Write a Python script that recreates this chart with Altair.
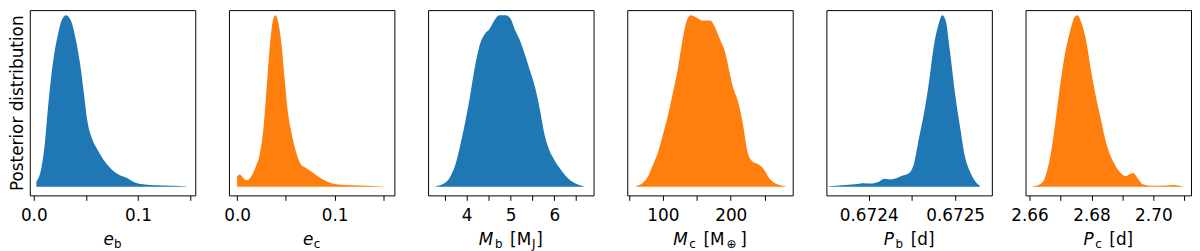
import altair as alt
import pandas as pd

# ---------------- data ----------------
eb_x = [0.0025, 0.0073, 0.0104, 0.0135, 0.0167, 0.0198, 0.023, 0.0262, 0.0309, 0.0356,
        0.0403, 0.0451, 0.0482, 0.0513, 0.056, 0.0608, 0.0671, 0.0734, 0.0813, 0.0891,
        0.0955, 0.1049, 0.1175, 0.1333, 0.1468]
eb_y = [0.03, 0.11, 0.24, 0.45, 0.64, 0.78, 0.88, 0.96, 1.0, 0.97,
        0.86, 0.69, 0.54, 0.39, 0.28, 0.22, 0.157, 0.11, 0.072, 0.053,
        0.03, 0.015, 0.009, 0.006, 0.002]

ec_x = [0.0, 0.0027, 0.0068, 0.0101, 0.0135, 0.0186, 0.023, 0.027, 0.0303, 0.0337,
        0.0371, 0.0394, 0.0421, 0.0455, 0.0489, 0.0522, 0.0556, 0.0606, 0.0657, 0.0707,
        0.0758, 0.0825, 0.0909, 0.101, 0.1178, 0.1347, 0.1536]
ec_y = [0.06, 0.072, 0.049, 0.038, 0.053, 0.11, 0.185, 0.34, 0.58, 0.83,
        0.98, 1.0, 0.96, 0.83, 0.62, 0.43, 0.32, 0.20, 0.128, 0.11,
        0.09, 0.062, 0.034, 0.015, 0.009, 0.006, 0.0]

mb_x = [3.296, 3.48, 3.63, 3.74, 3.85, 3.96, 4.07, 4.18, 4.30, 4.41, 4.52, 4.63, 4.74, 4.89,
        5.0, 5.11, 5.22, 5.33, 5.44, 5.56, 5.67, 5.78, 5.89, 6.0, 6.15, 6.30, 6.44, 6.67]
mb_y = [0.004, 0.019, 0.062, 0.128, 0.24, 0.37, 0.52, 0.69, 0.83, 0.89, 0.92, 0.97, 1.0, 1.0,
        0.98, 0.91, 0.85, 0.77, 0.68, 0.58, 0.45, 0.30, 0.21, 0.157, 0.10, 0.053, 0.025, 0.004]

mc_x = [60.7, 71.2, 78.4, 85.6, 92.8, 100, 107.2, 114.4, 121.6, 128.8, 134.6, 140.9, 148.1,
        157.6, 169.7, 176.9, 184.1, 191.4, 198.6, 203.3, 210.5, 217.7, 224.9, 232.1, 241.8,
        249, 256.2, 265.8, 280.2]
mc_y = [0.004, 0.025, 0.062, 0.128, 0.20, 0.30, 0.41, 0.54, 0.675, 0.85, 0.96, 1.0, 0.99,
        0.97, 0.97, 0.93, 0.86, 0.79, 0.66, 0.58, 0.50, 0.37, 0.20, 0.147, 0.128,
        0.10, 0.053, 0.019, 0.004]

pb_x = [0.672354, 0.672369, 0.672384, 0.672394, 0.672403, 0.672411, 0.672418, 0.672424,
        0.67243, 0.672437, 0.672447, 0.672452, 0.672458, 0.672464, 0.67247, 0.672475,
        0.672481, 0.672485, 0.672489, 0.672494, 0.6725, 0.672506, 0.672511, 0.672517,
        0.672523, 0.672529]
pb_y = [0.004, 0.009, 0.015, 0.021, 0.019, 0.028, 0.047, 0.043, 0.047, 0.062, 0.081, 0.128,
        0.28, 0.43, 0.62, 0.81, 0.95, 1.0, 0.97, 0.79, 0.54, 0.34, 0.185, 0.09, 0.034, 0.004]

pc_x = [2.6611, 2.6634, 2.665, 2.6666, 2.6682, 2.6698, 2.6714, 2.673, 2.6746, 2.6755,
        2.6767, 2.6783, 2.6799, 2.6815, 2.6831, 2.6847, 2.6863, 2.6879, 2.6895, 2.6911,
        2.6922, 2.6935, 2.6948, 2.6965, 2.6997, 2.704, 2.7066, 2.7096]
pc_y = [0.004, 0.015, 0.053, 0.166, 0.355, 0.58, 0.77, 0.90, 0.99, 1.0,
        0.96, 0.85, 0.675, 0.52, 0.39, 0.26, 0.175, 0.119, 0.081, 0.062,
        0.072, 0.081, 0.053, 0.015, 0.006, 0.0075, 0.011, 0.002]

xs = [eb_x, ec_x, mb_x, mc_x, pb_x, pc_x]
ys = [eb_y, ec_y, mb_y, mc_y, pb_y, pc_y]

tick_values = [
    [0.0, 0.05, 0.1, 0.15],
    [0.0, 0.05, 0.1, 0.15],
    [3.5, 4.0, 4.5, 5.0, 5.5, 6.0, 6.5],
    [50, 100, 150, 200, 250],
    [0.67235, 0.6724, 0.67245, 0.6725],
    [2.66, 2.67, 2.68, 2.69, 2.70, 2.71],
]
tick_labels = [
    [(0.0, "0.0"), (0.1, "0.1")],
    [(0.0, "0.0"), (0.1, "0.1")],
    [(4.0, "4"), (5.0, "5"), (6.0, "6")],
    [(100, "100"), (200, "200")],
    [(0.6724, "0.6724"), (0.6725, "0.6725")],
    [(2.66, "2.66"), (2.68, "2.68"), (2.70, "2.70")],
]
x_domains = [
    [-0.0038, 0.155],
    [-0.0084, 0.1613],
    [3.118, 6.896],
    [47.7, 291.2],
    [0.672351, 0.6725425],
    [2.65872, 2.71216],
]
# axis titles: (text, kind, gap before in em)
x_titles = [
    [("e", "it", 0), ("b", "sub", 0.02)],
    [("e", "it", 0), ("c", "sub", 0.02)],
    [("M", "it", 0), ("b", "sub", 0.1), ("[M", "rm", 0.45), ("J", "sub", 0.05), ("]", "rm", 0.05)],
    [("M", "it", 0), ("c", "sub", 0.1), ("[M", "rm", 0.45), ("⊕", "sub", 0.12), ("]", "rm", 0.22)],
    [("P", "it", 0), ("b", "sub", 0.1), ("[d]", "rm", 0.45)],
    [("P", "it", 0), ("c", "sub", 0.1), ("[d]", "rm", 0.45)],
]
y_title = "Posterior distribution"
colors = ["#1f77b4", "#ff7f0e", "#1f77b4", "#ff7f0e", "#1f77b4", "#ff7f0e"]

# ---------------- layout / style ----------------
W, H = 167, 187
FONT = "DejaVu Sans"
FS = 17
SUB = 12
ADV = {"e": 0.615, "b": 0.635, "c": 0.550, "M": 0.863, "P": 0.603, "J": 0.295,
       "[": 0.390, "]": 0.390, "d": 0.635, " ": 0.318, "⊕": 0.838}


def label_expr(pairs, step):
    eps = step * 1e-3
    expr = "''"
    for v, lab in reversed(pairs):
        expr = f"abs(datum.value - {v}) < {eps} ? '{lab}' : " + expr
    return expr


def title_layers(segs):
    total = 0.0
    for txt, kind, gap in segs:
        total += gap * FS
        size = SUB if kind == "sub" else FS
        total += sum(ADV.get(ch, 0.6) for ch in txt) * size
    x = W / 2 - total / 2
    layers = []
    for txt, kind, gap in segs:
        x += gap * FS
        size = SUB if kind == "sub" else FS
        y = H + 53 if kind == "sub" else H + 50
        style = "italic" if kind == "it" else "normal"
        layers.append(
            alt.Chart(alt.Data(values=[{"t": txt}]))
            .mark_text(align="left", baseline="alphabetic", font=FONT, fontSize=size,
                       fontStyle=style, color="black")
            .encode(text="t:N", x=alt.value(x), y=alt.value(y))
        )
        x += sum(ADV.get(ch, 0.6) for ch in txt) * size
    return layers


panels = []
for i in range(6):
    df = pd.DataFrame({"x": xs[i], "y": ys[i]})
    tv = tick_values[i]
    step = tv[1] - tv[0]
    xaxis = alt.Axis(values=tv, labelExpr=label_expr(tick_labels[i], step), title=None,
                     grid=False, domain=False, ticks=True, tickColor="black", tickSize=5,
                     tickWidth=1, labelColor="black", labelFont=FONT, labelFontSize=FS,
                     labelPadding=7, labelFlush=False, labelOverlap=False)
    if i == 0:
        yaxis = alt.Axis(title=y_title, labels=False, ticks=False, domain=False, grid=False,
                         minExtent=0, titlePadding=3, titleFont=FONT, titleFontSize=FS,
                         titleFontWeight="normal", titleColor="black")
    else:
        yaxis = None
    area = alt.Chart(df).mark_area(color=colors[i], interpolate="monotone", clip=True,
                                   opacity=1).encode(
        x=alt.X("x:Q", scale=alt.Scale(domain=x_domains[i], nice=False, zero=False), axis=xaxis),
        y=alt.Y("y:Q", scale=alt.Scale(domain=[-0.05, 1.03], nice=False, zero=False), axis=yaxis),
        y2=alt.datum(0),
    )
    panels.append(alt.layer(area, *title_layers(x_titles[i])).properties(width=W, height=H))

chart = (
    alt.hconcat(*panels, spacing=34, bounds="flush")
    .properties(padding=0, background="white")
    .configure_view(stroke="black", strokeWidth=1)
)

chart.save("out.html", embed_options={"renderer": "svg", "actions": False})
